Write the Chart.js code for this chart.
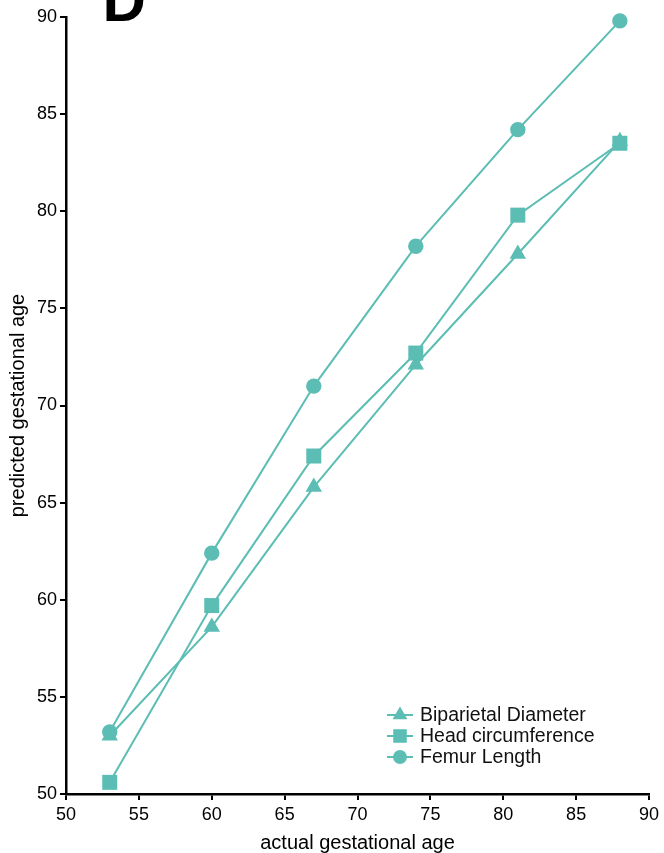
<!DOCTYPE html>
<html>
<head>
<meta charset="utf-8">
<script src="https://cdn.jsdelivr.net/npm/chart.js@4.4.1/dist/chart.umd.min.js"></script>
<style>
	html, body { margin: 0; padding: 0; background: #fff; }
	#wrap { width: 664px; height: 853px; position: relative; }
</style>
</head>
<body>
<div id="wrap"><canvas id="chart"></canvas></div>
<script>
// actual gestational age (x) and predicted ages per measurement
const ages = [53, 60, 67, 74, 81, 88]
const biparietal = [53.0, 58.6, 65.8, 72.1, 77.8, 83.6]
const headCirc = [50.6, 59.7, 67.4, 72.7, 79.8, 83.5]
const femur = [53.2, 62.4, 71.0, 78.2, 84.2, 89.8]
const seriesNames = ['Biparietal Diameter', 'Head circumference', 'Femur Length']
const axisTicks = [50, 55, 60, 65, 70, 75, 80, 85, 90]
const panelLetter = 'D'

const teal = '#5bbdb3'
const font = "'Liberation Sans', Arial, Helvetica, sans-serif"

function toPoints(values) {
	return ages.map((x, i) => ({x: x, y: values[i]}))
}

function series(label, values, style, radius) {
	return {
		label: label,
		data: toPoints(values),
		borderColor: teal,
		backgroundColor: teal,
		borderWidth: 2,
		pointStyle: style,
		pointRadius: radius,
		pointBorderWidth: 0,
		pointBackgroundColor: teal,
		legendRadius: radius * 0.9,
		clip: false
	}
}

// legend drawn inside the plot, lower right
const innerLegend = {
	id: 'innerLegend',
	afterDraw(chart) {
		const ctx = chart.ctx
		chart.data.datasets.forEach((ds, i) => {
			const y = 715 + i * 21
			ctx.save()
			ctx.strokeStyle = ds.borderColor
			ctx.lineWidth = 2
			ctx.beginPath()
			ctx.moveTo(387, y)
			ctx.lineTo(413, y)
			ctx.stroke()
			ctx.fillStyle = ds.backgroundColor
			Chart.helpers.drawPoint(ctx, {pointStyle: ds.pointStyle, radius: ds.legendRadius, borderWidth: 0, rotation: 0}, 400, y)
			ctx.fillStyle = '#111'
			ctx.font = '19.5px ' + font
			ctx.textBaseline = 'middle'
			ctx.textAlign = 'left'
			ctx.fillText(ds.label, 420, y + 1)
			ctx.restore()
		})
	}
}

const letter = {
	id: 'letter',
	afterDraw(chart) {
		const ctx = chart.ctx
		ctx.save()
		ctx.fillStyle = '#000'
		ctx.font = 'bold 60px ' + font
		ctx.textBaseline = 'alphabetic'
		ctx.fillText(panelLetter, 102.5, 21)
		ctx.restore()
	}
}

function axisOpts(title, isX) {
	return {
		type: 'linear',
		min: 50,
		max: 90,
		afterBuildTicks: (axis) => { axis.ticks = axisTicks.map(v => ({value: v})) },
		afterFit: (axis) => {
			if (isX) axis.height = 59
			else axis.width = 66
		},
		border: {display: true, color: '#000', width: 2.5},
		grid: {drawOnChartArea: false, drawTicks: true, tickLength: 6, color: '#000', lineWidth: 2},
		ticks: {
			color: '#000',
			padding: isX ? 4 : 3,
			maxRotation: 0,
			autoSkip: false,
			font: {family: font, size: 18}
		},
		title: {
			display: true,
			text: title,
			color: '#000',
			font: {family: font, size: 20, lineHeight: 1},
			padding: isX ? {top: 0, bottom: 0} : {top: 8, bottom: 0}
		}
	}
}

new Chart(document.getElementById('chart').getContext('2d'), {
	type: 'line',
	data: {
		datasets: [
			series(seriesNames[0], biparietal, 'triangle', 9.5),
			series(seriesNames[1], headCirc, 'rect', 10.6),
			series(seriesNames[2], femur, 'circle', 7.7)
		]
	},
	options: {
		responsive: true,
		maintainAspectRatio: false,
		animation: false,
		devicePixelRatio: 1,
		layout: {padding: {top: 17, right: 15, bottom: 0, left: 0}},
		plugins: {
			legend: {display: false},
			tooltip: {enabled: false}
		},
		scales: {
			x: axisOpts('actual gestational age', true),
			y: axisOpts('predicted gestational age', false)
		}
	},
	plugins: [innerLegend, letter]
})
</script>
</body>
</html>
